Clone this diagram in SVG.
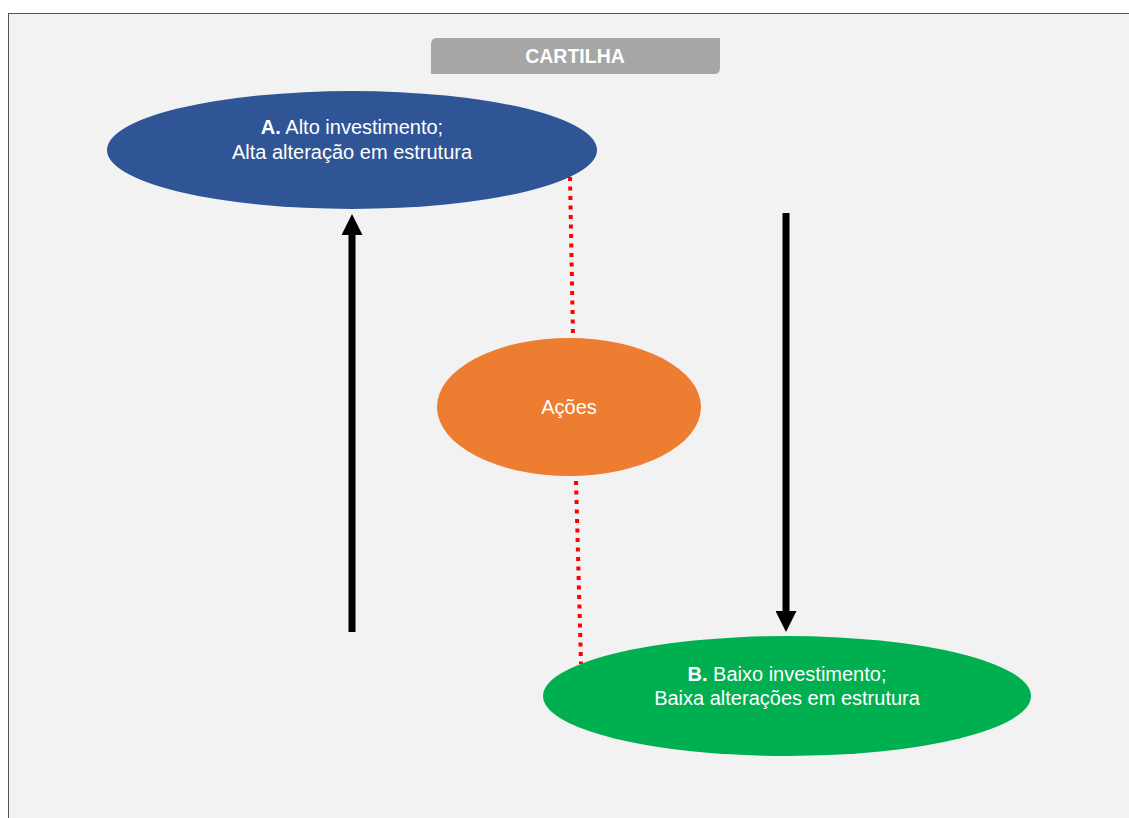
<svg xmlns="http://www.w3.org/2000/svg" width="1129" height="818" viewBox="0 0 1129 818">
<defs>
<style>
.t{font-family:"Liberation Sans",Arial,sans-serif;font-size:20px;fill:#fff;text-anchor:middle}
.b{font-weight:bold}
.dot{stroke:#ff0000;stroke-width:4;stroke-dasharray:4 5.5;fill:none}
.arr{stroke:#000;stroke-width:7;fill:none}
</style>
<marker id="ah" viewBox="0 0 10 10" refX="0" refY="5" markerWidth="3.1" markerHeight="3" orient="auto" markerUnits="strokeWidth">
<path d="M0,0 L10,5 L0,10 z" fill="#000"/>
</marker>
</defs>
<rect width="1129" height="818" fill="#fff"/>
<rect x="8.5" y="13.5" width="1130" height="810" fill="#f2f2f2" stroke="#555" stroke-width="1"/>
<g id="cartilha">
<path d="M437,38 H720 V68 Q720,74 714,74 H431 V44 Q431,38 437,38 Z" fill="#a6a6a6"/>
<text class="t b" x="575" y="63" style="font-size:19.5px">CARTILHA</text>
</g>
<g id="connectors">
<line class="dot" x1="570" y1="177" x2="573" y2="336"/>
<line class="dot" x1="576" y1="481" x2="581" y2="664"/>
<line class="arr" x1="352" y1="632" x2="352" y2="235" marker-end="url(#ah)"/>
<line class="arr" x1="786" y1="213" x2="786" y2="611" marker-end="url(#ah)"/>
</g>
<g id="nodeA">
<ellipse cx="352" cy="150" rx="245" ry="59" fill="#2f5597"/>
<text class="t" x="352" y="134"><tspan class="b">A.</tspan> Alto investimento;</text>
<text class="t" x="352" y="159">Alta alteração em estrutura</text>
</g>
<g id="acoes">
<ellipse cx="569" cy="407" rx="132" ry="69" fill="#ed7d31"/>
<text class="t" x="569" y="414">Ações</text>
</g>
<g id="nodeB">
<ellipse cx="787" cy="696" rx="244" ry="60" fill="#00b050"/>
<text class="t" x="787" y="681"><tspan class="b">B.</tspan> Baixo investimento;</text>
<text class="t" x="787" y="705">Baixa alterações em estrutura</text>
</g>
</svg>
